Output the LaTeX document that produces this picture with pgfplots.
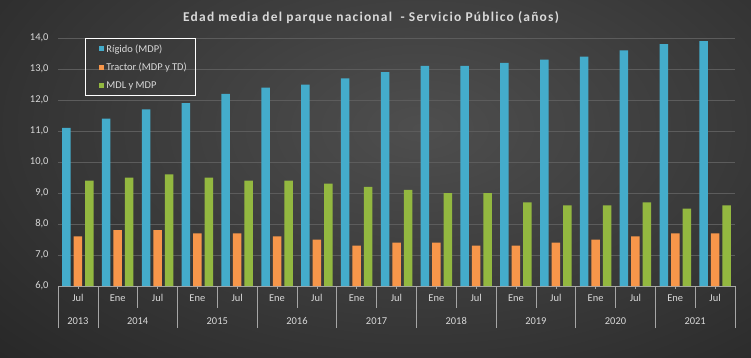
\documentclass[border=0pt]{standalone}
\usepackage{fontspec}
\setmainfont{Carlito}
\newfontfamily\titlefont[LetterSpace=9]{Carlito}
\usepackage{pgfplots}
\pgfplotsset{compat=1.18}
\definecolor{txt}{HTML}{D9D9D9}
\definecolor{bgIn}{HTML}{4E4E4E}
\definecolor{bgOut}{HTML}{1C1C1C}
\definecolor{gridc}{HTML}{5C5C5C}
\definecolor{sepc}{HTML}{A6A6A6}
\definecolor{cB}{HTML}{44ACCB}
\definecolor{cO}{HTML}{F7964A}
\definecolor{cG}{HTML}{93B840}
\begin{document}
\begin{tikzpicture}
\useasboundingbox (0,0) rectangle (751bp,358bp);
\fill[bgOut] (0,0) rectangle (751bp,358bp);
\begin{scope}
\clip (0,0) rectangle (751bp,358bp);
\shade[inner color=bgIn, outer color=bgOut] (420bp,230bp) ellipse (760bp and 440bp);
\end{scope}
\node[font=\titlefont\bfseries\fontsize{13.5}{15}\selectfont, text=txt] at (371bp,340bp) {Edad media del parque nacional \ - Servicio Público (años)};
\begin{axis}[at={(58bp,72bp)}, anchor=south west, scale only axis,
  width=677bp, height=248bp, clip=false,
  ymin=6, ymax=14, ytick={6,7,...,14},
  xmin=-0.5, xmax=16.5, xtick=data,
  xticklabels={Jul,Ene,Jul,Ene,Jul,Ene,Jul,Ene,Jul,Ene,Jul,Ene,Jul,Ene,Jul,Ene,Jul},
  ybar=3bp, bar width=8.5bp,
  axis lines*=left,
  y axis line style={draw=none},
  x axis line style={draw=sepc, line width=0.8pt},
  ytick style={draw=none},
  xtick style={draw=sepc, line width=0.6pt},
  tick align=outside, major tick length=3bp,
  ymajorgrids, grid style={gridc, line width=0.7pt},
  /pgf/number format/assume math mode=true,
  /pgf/number format/.cd, fixed, fixed zerofill, precision=1, use comma,
  /pgfplots/.cd,
  yticklabel style={text=txt, font=\fontsize{10.5}{12}\selectfont, xshift=-3bp},
  xticklabel style={text=txt, font=\fontsize{10.5}{12}\selectfont, yshift=-2bp},
  legend style={at={(0.04,1)}, anchor=north west, draw=white, line width=0.8pt, fill=none,
    text=txt, font=\fontsize{10.5}{12}\selectfont, row sep=5.5bp,
    inner xsep=7bp, inner ysep=4bp},
  legend cell align=left,
]
\addplot[draw=none, fill=cB,
  legend image code/.code={\path (0bp,0bp); \fill[cB] (7bp,-2.5bp) rectangle (12bp,2.5bp);}]
  coordinates {(0,11.1)(1,11.4)(2,11.7)(3,11.9)(4,12.2)(5,12.4)(6,12.5)(7,12.7)(8,12.9)(9,13.1)(10,13.1)(11,13.2)(12,13.3)(13,13.4)(14,13.6)(15,13.8)(16,13.9)};
\addplot[draw=none, fill=cO,
  legend image code/.code={\path (0bp,0bp); \fill[cO] (7bp,-2.5bp) rectangle (12bp,2.5bp);}]
  coordinates {(0,7.6)(1,7.8)(2,7.8)(3,7.7)(4,7.7)(5,7.6)(6,7.5)(7,7.3)(8,7.4)(9,7.4)(10,7.3)(11,7.3)(12,7.4)(13,7.5)(14,7.6)(15,7.7)(16,7.7)};
\addplot[draw=none, fill=cG,
  legend image code/.code={\path (0bp,0bp); \fill[cG] (7bp,-2.5bp) rectangle (12bp,2.5bp);}]
  coordinates {(0,9.4)(1,9.5)(2,9.6)(3,9.5)(4,9.4)(5,9.4)(6,9.3)(7,9.2)(8,9.1)(9,9.0)(10,9.0)(11,8.7)(12,8.6)(13,8.6)(14,8.7)(15,8.5)(16,8.6)};
\legend{Rígido (MDP),Tractor (MDP y TD),MDL y MDP}
\pgfplotsinvokeforeach{-0.5,0.5,2.5,4.5,6.5,8.5,10.5,12.5,14.5,16.5}{
  \draw[sepc, line width=0.6pt] (axis cs:#1,6) -- ([yshift=-42bp]axis cs:#1,6);}
\pgfplotsinvokeforeach{1.5,3.5,5.5,7.5,9.5,11.5,13.5,15.5}{
  \draw[sepc, line width=0.6pt] (axis cs:#1,6) -- ([yshift=-22bp]axis cs:#1,6);}
\node[text=txt, font=\fontsize{10.5}{12}\selectfont] at (axis cs:0,6) [yshift=-35bp] {2013};
\node[text=txt, font=\fontsize{10.5}{12}\selectfont] at (axis cs:1.5,6) [yshift=-35bp] {2014};
\node[text=txt, font=\fontsize{10.5}{12}\selectfont] at (axis cs:3.5,6) [yshift=-35bp] {2015};
\node[text=txt, font=\fontsize{10.5}{12}\selectfont] at (axis cs:5.5,6) [yshift=-35bp] {2016};
\node[text=txt, font=\fontsize{10.5}{12}\selectfont] at (axis cs:7.5,6) [yshift=-35bp] {2017};
\node[text=txt, font=\fontsize{10.5}{12}\selectfont] at (axis cs:9.5,6) [yshift=-35bp] {2018};
\node[text=txt, font=\fontsize{10.5}{12}\selectfont] at (axis cs:11.5,6) [yshift=-35bp] {2019};
\node[text=txt, font=\fontsize{10.5}{12}\selectfont] at (axis cs:13.5,6) [yshift=-35bp] {2020};
\node[text=txt, font=\fontsize{10.5}{12}\selectfont] at (axis cs:15.5,6) [yshift=-35bp] {2021};
\end{axis}
\end{tikzpicture}
\end{document}
